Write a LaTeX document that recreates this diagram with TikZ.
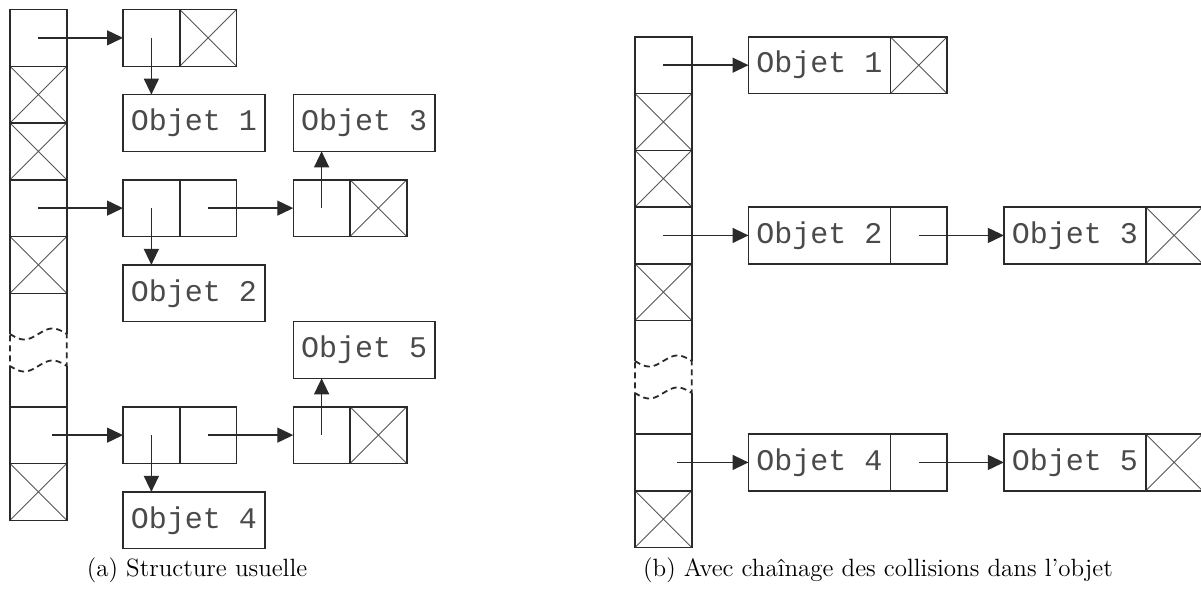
\documentclass[tikz,border=0pt]{standalone}
\usepackage{fontspec}
\newfontfamily\objfont{Liberation Mono}
\usepackage{tikz}
\usetikzlibrary{arrows.meta,positioning,calc}
\definecolor{ink}{HTML}{2A2A2A}
\definecolor{txt}{HTML}{4A4A4A}

\begin{document}
\begin{tikzpicture}[x=0.5pt, y=-0.5pt, >={Triangle[length=8pt,width=7.5pt]},
  cell/.style={draw=ink, line width=0.75pt, rectangle, minimum width=28.375pt, minimum height=28.375pt, inner sep=0pt, outer sep=0pt, anchor=north west},
  nil/.style={cell, path picture={\draw[ink!80, line width=0.45pt] (path picture bounding box.north west) -- (path picture bounding box.south east) (path picture bounding box.south west) -- (path picture bounding box.north east);}},
  obj/.style={cell, minimum width=70.94pt, text=txt, font=\objfont\fontsize{15}{17}\selectfont},
  link/.style={->, ink, line width=0.7pt},
  gap/.style={ink, line width=0.9pt, densely dashed},
  side/.style={ink, line width=0.75pt},
  caption/.style={font=\fontsize{12.5}{15}\selectfont}]
\useasboundingbox (0,0) rectangle (1201,595);

% (a) table
\foreach \i in {0,3,7} \node[cell] (a\i) at (10,{9.5+56.75*\i}) {};
\foreach \i in {1,2,4,8} \node[nil] (a\i) at (10,{9.5+56.75*\i}) {};
\draw[side] (a4.south west) -- (10,334) (10,366) -- (a7.north west);
\draw[side] (a4.south east) -- (66.75,334) (66.75,366) -- (a7.north east);
\draw[gap] plot[domain=0:1, samples=40] ({10+56.75*\x},{334+5.5*sin(360*\x)}) -- (66.75,366)
  -- plot[domain=1:0, samples=40] ({10+56.75*\x},{366+5.5*sin(360*\x)}) -- cycle;

% (a) chained cells
\node[cell] (p1) at (123,9.5) {};
\node[nil, right=0pt of p1] (p1n) {};
\node[obj] (o1) at (123,94.6) {Objet 1};
\node[cell] (p2) at (123,179.75) {};
\node[cell, right=0pt of p2] (p2r) {};
\node[obj] (o2) at (123,264.9) {Objet 2};
\node[cell] (q2) at (293.25,179.75) {};
\node[nil, right=0pt of q2] (q2n) {};
\node[obj] (o3) at (293.25,94.6) {Objet 3};
\node[cell] (p3) at (123,406.75) {};
\node[cell, right=0pt of p3] (p3r) {};
\node[obj] (o4) at (123,491.9) {Objet 4};
\node[cell] (q3) at (293.25,406.75) {};
\node[nil, right=0pt of q3] (q3n) {};
\node[obj] (o5) at (293.25,321.6) {Objet 5};

\draw[link] (a0.center) -- (p1.west);
\draw[link] (p1.center) -- (p1.center |- o1.north);
\draw[link] (a3.center) -- (p2.west);
\draw[link] (p2.center) -- (p2.center |- o2.north);
\draw[link] (p2r.center) -- (q2.west);
\draw[link] (q2.center) -- (q2.center |- o3.south);
\draw[link] ([xshift=7pt]a7.center) -- (p3.west);
\draw[link] (p3.center) -- (p3.center |- o4.north);
\draw[link] (p3r.center) -- (q3.west);
\draw[link] (q3.center) -- (q3.center |- o5.south);

% (b) table
\foreach \i in {0,3,7} \node[cell] (b\i) at (635,{36.8+56.75*\i}) {};
\foreach \i in {1,2,4,8} \node[nil] (b\i) at (635,{36.8+56.75*\i}) {};
\draw[side] (b4.south west) -- (635,361) (635,393) -- (b7.north west);
\draw[side] (b4.south east) -- (691.75,361) (691.75,393) -- (b7.north east);
\draw[gap] plot[domain=0:1, samples=40] ({635+56.75*\x},{361+5.5*sin(360*\x)}) -- (691.75,393)
  -- plot[domain=1:0, samples=40] ({635+56.75*\x},{393+5.5*sin(360*\x)}) -- cycle;

% (b) objects holding the next pointer
\node[obj] (r1) at (748.5,36.8) {Objet 1};
\node[nil, right=0pt of r1] (r1n) {};
\node[obj] (r2) at (748.5,207.05) {Objet 2};
\node[cell, right=0pt of r2] (r2p) {};
\node[obj] (r3) at (1003.9,207.05) {Objet 3};
\node[nil, right=0pt of r3] (r3n) {};
\node[obj] (r4) at (748.5,434.05) {Objet 4};
\node[cell, right=0pt of r4] (r4p) {};
\node[obj] (r5) at (1003.9,434.05) {Objet 5};
\node[nil, right=0pt of r5] (r5n) {};

\draw[link] (b0.center) -- (r1.west);
\draw[link] (b3.center) -- (r2.west);
\draw[link] (r2p.center) -- (r3.west);
\draw[link] ([xshift=7pt]b7.center) -- (r4.west);
\draw[link] (r4p.center) -- (r5.west);

% captions
\node[caption] (capa) at (197,570) {(a) Structure usuelle};
\node[caption] (capb) at (878,570) {(b) Avec chaînage des collisions dans l'objet};
\end{tikzpicture}
\end{document}
